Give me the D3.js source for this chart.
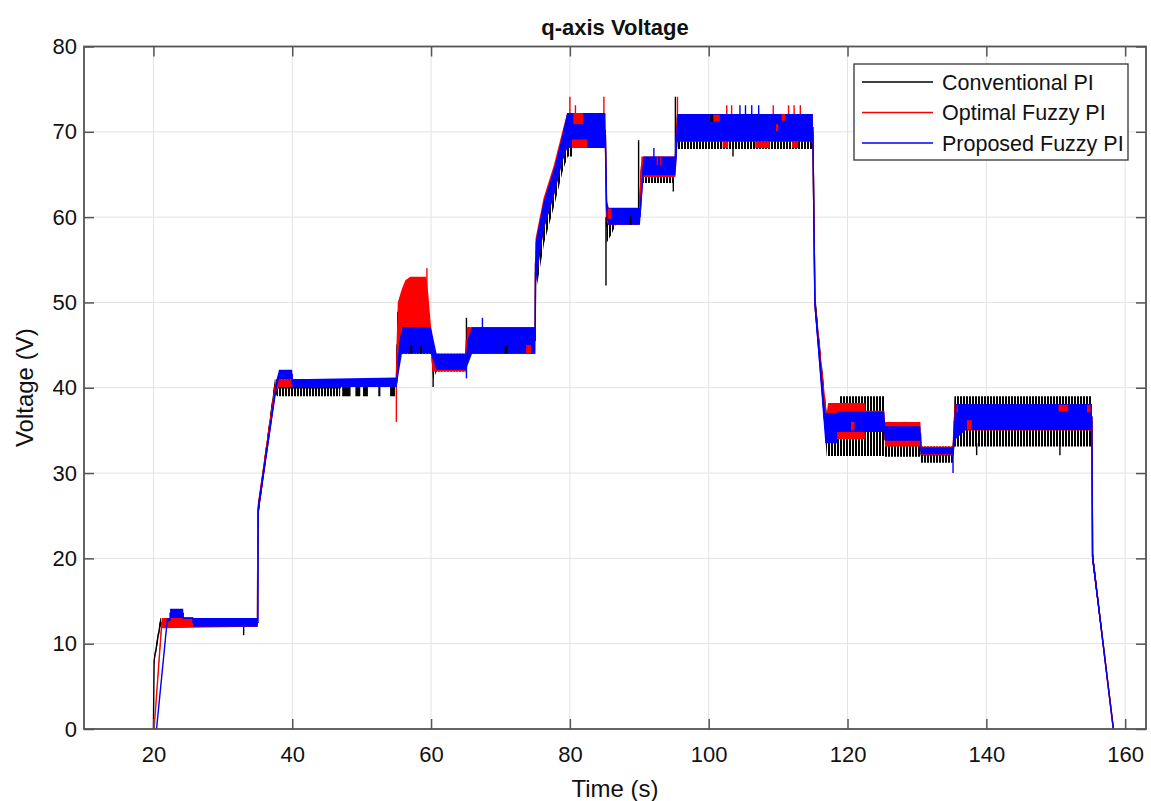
<!DOCTYPE html>
<html lang="en">
<head>
<meta charset="UTF-8">
<title>q-axis Voltage</title>
<script src="https://d3js.org/d3.v7.min.js"></script>
<style>
  body { margin: 0; background: #fff; }
  text { font-family: "Liberation Sans", Arial, sans-serif; }
</style>
</head>
<body>
<div id="chart"></div>
<script>
// axis ticks
var xTicks = [20, 40, 60, 80, 100, 120, 140, 160];
var yTicks = [0, 10, 20, 30, 40, 50, 60, 70, 80];
var seriesNames = ["Conventional PI", "Optimal Fuzzy PI", "Proposed Fuzzy PI"];
var seriesColors = ["#000000", "#ff0000", "#0000ff"];

// envelope of each oscillating signal: [time, low, high]
var convBand = [
  [20.0, 0, 0], [20.1, 7.5, 8.5], [21.0, 12, 13], [35.0, 12, 13],
  [35.05, 24.5, 26], [37.5, 39.5, 41], [37.8, 39, 41], [46.9, 39, 41],
  [46.9, 40.1, 41], [55.0, 40.1, 41], [55.1, 43, 47], [55.8, 44, 47.1],
  [60.0, 44, 47.1], [60.3, 41, 44], [60.8, 41.9, 44], [65.0, 41.9, 44],
  [65.1, 44, 47.1], [75.0, 44, 47.1], [75.05, 51, 56], [76.3, 57, 61.2],
  [77.8, 61.5, 65], [79.0, 65.5, 69], [79.7, 67.1, 72], [80.4, 67.1, 72],
  [80.4, 68.1, 72], [85.1, 68.1, 72], [85.3, 57, 61], [86.0, 58, 61],
  [86.6, 59.1, 61], [90.0, 59.1, 61], [90.3, 64, 67], [95.1, 64, 67],
  [95.4, 68, 72], [115.0, 68, 72], [115.3, 50, 51], [117.0, 32, 37],
  [117.2, 32, 38.2], [118.9, 32, 38.2], [118.9, 32, 39], [125.3, 32, 39],
  [125.4, 31.9, 36], [130.5, 31.9, 36], [130.6, 31.2, 33.1], [135.2, 31.2, 33.1],
  [135.4, 33.1, 39], [155.2, 33.1, 39], [155.3, 19.5, 21], [158.3, 0, 0]
];
var fuzzyBand = [
  [20.1, 0, 0], [21.2, 11.8, 13], [35.0, 12, 13], [35.05, 25, 26.5],
  [37.6, 39.5, 41], [38.1, 40.1, 41], [55.0, 40.1, 41], [55.2, 44, 50],
  [55.8, 47, 51.6], [56.3, 47, 52.6], [57.0, 47, 53], [59.3, 47, 53], [59.6, 46, 51],
  [60.0, 44, 47.1], [60.2, 41.9, 44], [65.1, 41.9, 44], [65.15, 44, 47.1],
  [75.0, 44, 47.1], [75.05, 52, 57.5], [76.2, 58.5, 62.2], [77.7, 62.5, 66.1],
  [78.9, 66.5, 70], [79.6, 68.1, 72.2], [85.1, 68.1, 72.2], [85.3, 59.5, 61],
  [85.5, 59.1, 61], [90.0, 59.1, 61], [90.3, 64.7, 67.1], [95.2, 64.7, 67.1],
  [95.4, 68.85, 72.1], [115.0, 68.85, 72.1], [115.3, 49, 50.5], [117.0, 34, 37],
  [117.2, 34, 38.2], [122.5, 34, 38.2], [122.5, 34.8, 37.3], [125.3, 34.8, 37.3],
  [125.4, 33.1, 36], [130.5, 33.1, 36], [130.6, 32.1, 33.1], [135.2, 32.1, 33.1],
  [135.4, 35, 38.1], [155.2, 35, 38.1], [155.3, 19.5, 21], [158.3, 0, 0]
];
var propBand = [
  [20.45, 0, 0], [22.0, 12.6, 13], [22.4, 12.6, 13], [22.4, 13, 14.1],
  [24.3, 13, 14.1], [24.3, 12.9, 13.1], [25.7, 12.9, 13.1], [25.7, 12, 13],
  [35.05, 12, 13], [35.1, 25, 26.5], [37.75, 40, 41], [38.1, 41, 42.1],
  [40.0, 41, 42.1], [40.0, 40.1, 41], [55.05, 40.1, 41.2], [55.3, 41.5, 44.5],
  [55.8, 44, 47.1], [60.0, 44, 47.1], [60.4, 43, 45.5], [60.8, 42.1, 44],
  [65.1, 42.1, 44], [65.2, 42.5, 45.5], [65.9, 44, 47.1], [75.0, 44, 47.1],
  [75.05, 52, 57], [76.2, 58.5, 61.7], [77.7, 62.5, 65.6], [78.9, 66.5, 69.5],
  [79.6, 68.1, 72.2], [85.1, 68.1, 72.2], [85.3, 60, 62], [85.6, 59.1, 61.1],
  [90.1, 59.1, 61.1], [90.6, 64.9, 67.1], [95.2, 64.9, 67.1], [95.5, 68.85, 72.1],
  [115.0, 68.85, 72.1], [115.3, 49, 50.5], [116.8, 33.5, 37], [118.5, 33.5, 37],
  [118.5, 34.8, 37.2], [125.3, 34.8, 37.2], [125.4, 33.8, 35.5], [130.5, 33.8, 35.5],
  [130.6, 32.2, 33.0], [135.2, 32.2, 33.0], [135.5, 33.9, 38.1], [137.0, 35.05, 38.1],
  [155.2, 35.05, 38.1], [155.3, 19.5, 21], [158.3, 0, 0]
];

// bursts of chatter showing through: [t0, t1, low, high]
var convBursts = [
  [47.2, 48.4, 39, 40.1], [49.1, 49.8, 39, 40.1], [50.2, 50.9, 39, 40.1],
  [52.4, 52.7, 39, 40.1], [54.1, 54.8, 39, 40.1], [57.0, 57.3, 44, 44.9],
  [58.4, 58.7, 44, 44.9], [70.6, 71.0, 44, 44.9], [73.9, 74.1, 44, 44.9],
  [88.6, 88.9, 59.1, 60.1], [100.2, 100.6, 71.2, 72.0]
];
var fuzzyBursts = [
  [80.5, 81.9, 70.9, 72.2], [80.3, 82.5, 68.1, 69.1], [85.5, 86.0, 59.8, 61],
  [92.5, 92.7, 66.1, 67.1], [93.0, 93.2, 66.1, 67.1], [73.7, 74.4, 44, 45],
  [100.7, 101.6, 71.2, 72.0], [102.0, 102.8, 68.1, 68.85], [106.7, 108.8, 68.1, 68.85],
  [112.0, 112.9, 68.1, 68.85], [109.7, 110.0, 70.1, 70.9], [110.5, 111.0, 71.3, 72.1],
  [135.7, 135.9, 37.1, 38.0], [137.2, 137.9, 35.1, 36.2], [150.4, 151.8, 37.2, 38.0],
  [154.5, 155.0, 37.1, 38.0], [120.5, 121.0, 35.0, 36.0], [128.0, 128.4, 35.5, 36.0]
];

// isolated spikes: [t, from, to]
var convSpikes = [
  [33.0, 11.0, 12.5], [55.2, 44, 48.9], [60.3, 40.1, 43], [65.1, 44, 48.2],
  [85.2, 52, 60], [89.9, 61, 69], [94.9, 63, 65], [95.2, 67, 74.1],
  [103.5, 67.1, 68.5], [138.6, 32.1, 33.5], [150.6, 32.1, 33.5]
];
var fuzzySpikes = [
  [55.0, 36.0, 41], [59.4, 50, 54.0], [80.0, 72, 74.1], [80.8, 72, 73.1],
  [84.9, 72, 74.1], [95.5, 72, 74.1], [102.6, 72, 73.1], [103.3, 72, 73.1],
  [109.3, 72, 73.1], [111.5, 72, 73.1], [112.3, 72, 73.1], [113.2, 72, 73.1]
];
var propSpikes = [
  [65.1, 41.1, 43], [67.4, 47, 48.2], [92.1, 67, 68.1], [104.5, 72, 73.1],
  [105.3, 72, 73.1], [106.2, 72, 73.1], [107.2, 72, 73.1], [135.2, 30.0, 33]
];

var width = 1151, height = 801;
var plotLeft = 84, plotRight = 1146, plotTop = 46.5, plotBottom = 729;

var x = d3.scaleLinear().domain([10, 163]).range([plotLeft, plotRight]);
var y = d3.scaleLinear().domain([0, 80]).range([plotBottom, plotTop]);

var svg = d3.select("#chart").append("svg")
  .attr("width", width)
  .attr("height", height);

var defs = svg.append("defs");
defs.append("clipPath").attr("id", "plot-clip")
  .append("rect")
  .attr("x", plotLeft).attr("y", plotTop)
  .attr("width", plotRight - plotLeft).attr("height", plotBottom - plotTop);
var hatch = defs.append("pattern")
  .attr("id", "hatch")
  .attr("patternUnits", "userSpaceOnUse")
  .attr("width", 3).attr("height", 6);
hatch.append("rect").attr("width", 2).attr("height", 6).attr("fill", "#000");

// grid
var grid = svg.append("g").attr("stroke", "#e3e3e3").attr("stroke-width", 1);
grid.selectAll(".gx").data(xTicks).enter().append("line")
  .attr("x1", d => x(d)).attr("x2", d => x(d))
  .attr("y1", plotTop).attr("y2", plotBottom);
grid.selectAll(".gy").data(yTicks).enter().append("line")
  .attr("x1", plotLeft).attr("x2", plotRight)
  .attr("y1", d => y(d)).attr("y2", d => y(d));

var plot = svg.append("g").attr("clip-path", "url(#plot-clip)");

var area = d3.area()
  .x(d => x(d[0]))
  .y0(d => y(d[1]))
  .y1(d => y(d[2]));
var mid = d3.line()
  .x(d => x(d[0]))
  .y(d => y((d[1] + d[2]) / 2));

function drawBand(data, fill, color) {
  plot.append("path").datum(data)
    .attr("d", area)
    .attr("fill", fill);
  plot.append("path").datum(data)
    .attr("d", mid)
    .attr("fill", "none")
    .attr("stroke", color)
    .attr("stroke-width", 1.4);
}

function drawBursts(data, color) {
  plot.append("g").selectAll("rect").data(data).enter().append("rect")
    .attr("x", d => x(d[0]))
    .attr("width", d => Math.max(1, x(d[1]) - x(d[0])))
    .attr("y", d => y(d[3]))
    .attr("height", d => y(d[2]) - y(d[3]))
    .attr("fill", color);
}

function drawSpikes(data, color) {
  plot.append("g").selectAll("line").data(data).enter().append("line")
    .attr("x1", d => x(d[0])).attr("x2", d => x(d[0]))
    .attr("y1", d => y(d[1])).attr("y2", d => y(d[2]))
    .attr("stroke", color)
    .attr("stroke-width", 1.4);
}

drawBand(convBand, "url(#hatch)", seriesColors[0]);
drawSpikes(convSpikes, seriesColors[0]);
drawBand(fuzzyBand, seriesColors[1], seriesColors[1]);
drawSpikes(fuzzySpikes, seriesColors[1]);
drawBand(propBand, seriesColors[2], seriesColors[2]);
drawSpikes(propSpikes, seriesColors[2]);
drawBursts(convBursts, seriesColors[0]);
drawBursts(fuzzyBursts, seriesColors[1]);

// axes, box style with inward ticks
var axisColor = "#555";
function styleAxis(g) {
  g.select(".domain").remove();
  g.selectAll(".tick line").attr("stroke", axisColor).attr("stroke-width", 1.5);
  g.selectAll("text")
    .attr("fill", "#111")
    .style("font-size", "22px")
    .style("font-family", "'Liberation Sans', Arial, sans-serif");
}

svg.append("g")
  .attr("transform", "translate(0," + plotBottom + ")")
  .call(d3.axisBottom(x).tickValues(xTicks).tickSizeInner(-10).tickSizeOuter(0).tickPadding(17))
  .call(styleAxis);
svg.append("g")
  .attr("transform", "translate(0," + plotTop + ")")
  .call(d3.axisTop(x).tickValues(xTicks).tickSizeInner(-10).tickSizeOuter(0).tickFormat(""))
  .call(styleAxis);
svg.append("g")
  .attr("transform", "translate(" + plotLeft + ",0)")
  .call(d3.axisLeft(y).tickValues(yTicks).tickSizeInner(-10).tickSizeOuter(0).tickPadding(7))
  .call(styleAxis);
svg.append("g")
  .attr("transform", "translate(" + plotRight + ",0)")
  .call(d3.axisRight(y).tickValues(yTicks).tickSizeInner(-10).tickSizeOuter(0).tickFormat(""))
  .call(styleAxis);

svg.append("rect")
  .attr("x", plotLeft).attr("y", plotTop)
  .attr("width", plotRight - plotLeft).attr("height", plotBottom - plotTop)
  .attr("fill", "none")
  .attr("stroke", axisColor)
  .attr("stroke-width", 1.8);

// titles
svg.append("text")
  .attr("x", (plotLeft + plotRight) / 2).attr("y", 35)
  .attr("text-anchor", "middle")
  .style("font-size", "22px").style("font-weight", "bold")
  .attr("fill", "#111")
  .text("q-axis Voltage");
svg.append("text")
  .attr("x", (plotLeft + plotRight) / 2).attr("y", 797)
  .attr("text-anchor", "middle")
  .style("font-size", "24px")
  .attr("fill", "#111")
  .text("Time (s)");
svg.append("text")
  .attr("transform", "translate(33," + (plotTop + plotBottom) / 2 + ") rotate(-90)")
  .attr("text-anchor", "middle")
  .style("font-size", "24px")
  .attr("fill", "#111")
  .text("Voltage (V)");

// legend
var legend = svg.append("g").attr("transform", "translate(854,64)");
legend.append("rect")
  .attr("width", 274).attr("height", 96)
  .attr("fill", "#fff")
  .attr("stroke", "#333")
  .attr("stroke-width", 1.3);
var rows = legend.selectAll(".row").data(seriesNames).enter().append("g")
  .attr("transform", (d, i) => "translate(0," + (18 + i * 30.5) + ")");
rows.append("line")
  .attr("x1", 8).attr("x2", 79)
  .attr("stroke", (d, i) => seriesColors[i])
  .attr("stroke-width", 1.4);
rows.append("text")
  .attr("x", 88).attr("y", 7.5)
  .style("font-size", "21.5px")
  .attr("fill", "#111")
  .text(d => d);
</script>
</body>
</html>
